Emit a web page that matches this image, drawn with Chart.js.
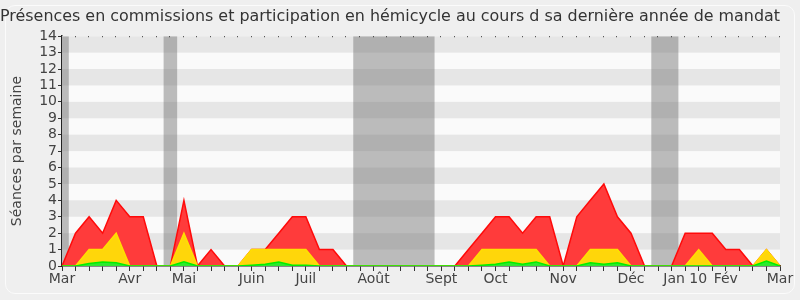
<!DOCTYPE html>
<html>
<head>
<meta charset="utf-8">
<script src="https://cdn.jsdelivr.net/npm/chart.js@4/dist/chart.umd.min.js"></script>
<style>
  html, body { margin: 0; padding: 0; background: #efefef; }
  #wrap { position: relative; width: 800px; height: 300px; }
  #frame { position: absolute; left: 5px; top: 5px; width: 788px; height: 287px; border: 1px solid #fbfbfb; border-radius: 10px; }
  canvas { position: absolute; left: 0; top: 0; }
</style>
</head>
<body>
<div id="wrap"><div id="frame"></div><canvas id="c" width="800" height="300"></canvas></div>
<script>
// Week index labels (54 weekly points, Mar -> Mar)
const monthLabels = {0:'Mar',5:'Avr',9:'Mai',14:'Juin',18:'Juil',23:'Août',28:'Sept',32:'Oct',37:'Nov',42:'Déc',46:'Jan 10',49:'Fév',53:'Mar'};
const weekLabels = Array.from({length: 54}, (_, i) => monthLabels[i] || '');

// Total presences (red)
const presences = [0,2,3,2,4,3,3,0,0,4,0,1,0,0,1,1,2,3,3,1,1,0,0,0,0,0,0,0,0,0,1,2,3,3,2,3,3,0,3,4,5,3,2,0,0,0,2,2,2,1,1,0,1,0];
// Commission presences (yellow)
const commissions = [0,0,1,1,2,0,0,0,0,2,0,0,0,0,1,1,1,1,1,0,0,0,0,0,0,0,0,0,0,0,0,1,1,1,1,1,0,0,0,1,1,1,0,0,0,0,0,1,0,0,0,0,1,0];
// Hemicycle participation (green)
const hemicycle = [0,0,0.15,0.25,0.2,0,0,0,0,0.25,0,0,0,0,0.05,0.1,0.25,0.05,0.05,0,0,0,0,0,0,0,0,0,0,0,0,0.05,0.1,0.25,0.1,0.25,0,0,0,0.2,0.1,0.2,0,0,0,0,0,0,0,0,0,0,0.3,0];
// Parliamentary vacation weeks (grey bands)
const vacationWeeks = [0,8,22,23,24,25,26,27,44,45];

const yTitle = 'Séances par semaine';
const chartTitle = 'Présences en commissions et participation en hémicycle au cours d sa dernière année de mandat';

const tickFont = { family: 'DejaVu Sans', size: 14 };

const bgPlugin = {
  id: 'bg',
  beforeDatasetsDraw(chart) {
    const {ctx, chartArea: a, scales: {x, y}} = chart;
    ctx.save();
    ctx.fillStyle = '#fafafa';
    ctx.fillRect(a.left, a.top, a.right - a.left, a.bottom - a.top);
    ctx.fillStyle = '#e6e6e6';
    for (let k = 1; k < 14; k += 2) {
      const y1 = y.getPixelForValue(k + 1), y0 = y.getPixelForValue(k);
      ctx.fillRect(a.left, y1, a.right - a.left, y0 - y1);
    }
    ctx.beginPath();
    ctx.rect(a.left, a.top, a.right - a.left, a.bottom - a.top);
    ctx.clip();
    ctx.fillStyle = 'rgba(110,110,110,0.45)';
    const runs = [];
    vacationWeeks.forEach(w => {
      const last = runs[runs.length - 1];
      if (last && w === last[1] + 1) last[1] = w; else runs.push([w, w]);
    });
    runs.forEach(([s, e]) => {
      const x0 = x.getPixelForValue(s - 0.5), x1 = x.getPixelForValue(e + 0.5);
      ctx.fillRect(x0, a.top, x1 - x0, a.bottom - a.top);
    });
    ctx.restore();
  },
  afterDraw(chart) {
    const {ctx, chartArea: a, scales: {x}} = chart;
    ctx.save();
    ctx.fillStyle = '#333';
    for (let i = 1; i < weekLabels.length; i++) {
      const px = Math.round(x.getPixelForValue(i));
      ctx.fillRect(px - 1, a.top, 1, 1);
    }
    ctx.restore();
  }
};

new Chart(document.getElementById('c'), {
  type: 'line',
  data: {
    labels: weekLabels,
    datasets: [
      { data: hemicycle, fill: 'origin', backgroundColor: '#2ee82e', borderColor: '#00ee00', borderWidth: 1.5, pointRadius: 0, tension: 0 },
      { data: commissions, fill: 'origin', backgroundColor: '#ffd60a', borderColor: '#ffe000', borderWidth: 1.5, pointRadius: 0, tension: 0 },
      { data: presences, fill: 'origin', backgroundColor: '#ff3b3b', borderColor: '#ff0a0a', borderWidth: 1.5, pointRadius: 0, tension: 0 }
    ]
  },
  options: {
    responsive: false,
    animation: false,
    events: [],
    layout: { padding: { left: 0, right: 20, top: 0, bottom: 0 } },
    plugins: {
      legend: { display: false },
      tooltip: { enabled: false },
      title: { display: true, text: chartTitle, color: '#333', font: { family: 'DejaVu Sans', size: 16, weight: 'normal' }, padding: { top: 7, bottom: 10 } }
    },
    scales: {
      x: {
        type: 'category',
        offset: false,
        afterFit(s) { s.height = 34; },
        grid: { display: true, drawOnChartArea: false, drawTicks: true, tickLength: 5, color: '#333' },
        border: { display: true, color: '#222', width: 1.5 },
        ticks: { autoSkip: false, maxRotation: 0, minRotation: 0, padding: 0, color: '#444', font: tickFont }
      },
      y: {
        min: 0, max: 14,
        afterFit(s) { s.width = 62; },
        grid: { display: true, drawOnChartArea: false, drawTicks: true, tickLength: 4, color: '#333' },
        border: { display: true, color: '#222', width: 1.5 },
        ticks: { stepSize: 1, autoSkip: false, padding: 1, color: '#444', font: tickFont },
        title: { display: true, text: yTitle, color: '#444', font: { family: 'DejaVu Sans', size: 14 }, padding: { top: 9, bottom: 0 } }
      }
    }
  },
  plugins: [bgPlugin]
});
</script>
</body>
</html>
